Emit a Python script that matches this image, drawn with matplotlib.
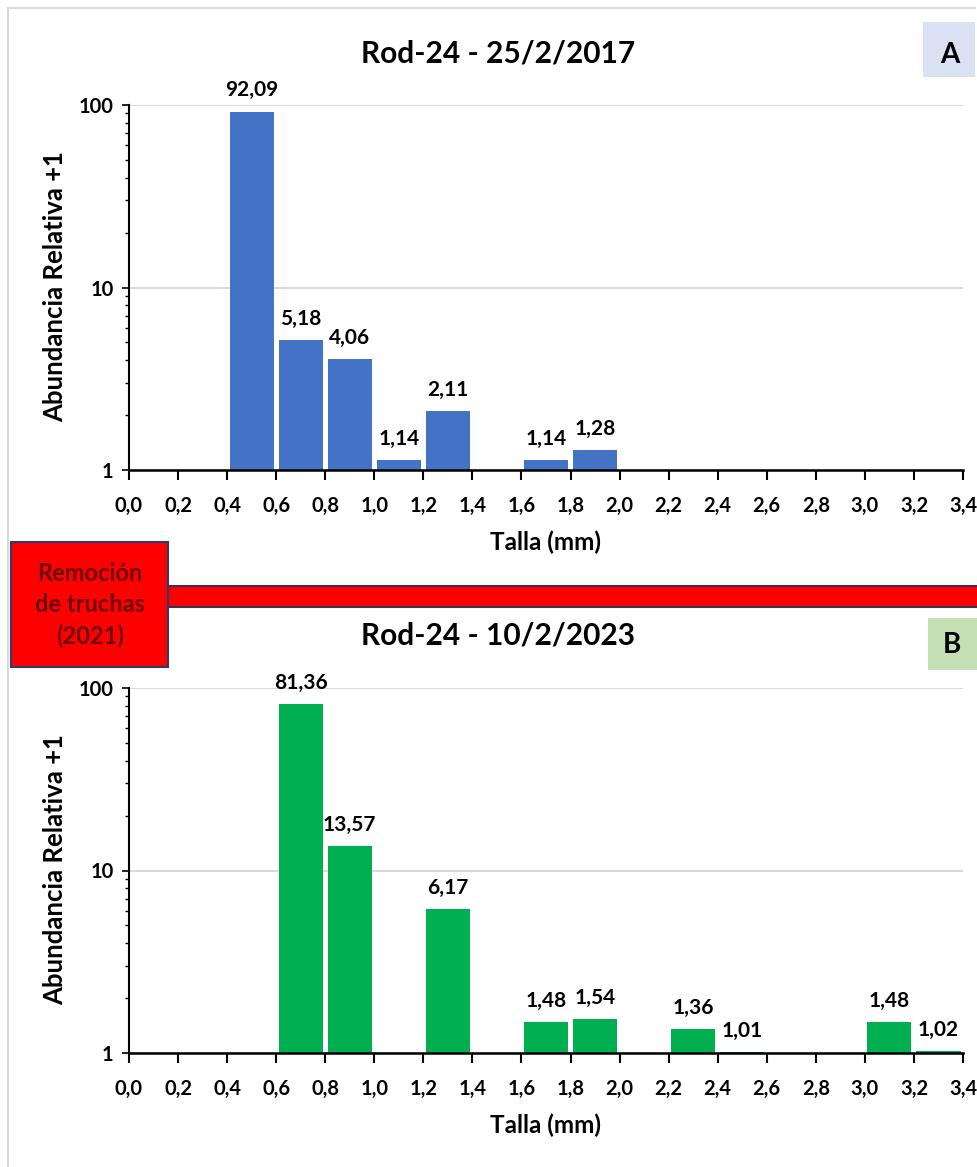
import numpy as np
import matplotlib.pyplot as plt
from matplotlib.lines import Line2D
from matplotlib.patches import Rectangle
from matplotlib.ticker import FixedLocator, LogLocator, NullFormatter

plt.rcParams['font.family'] = ['Lato', 'DejaVu Sans']
plt.rcParams['font.weight'] = 'bold'

# size classes (mm): lower edge of each 0.2 mm bin
bins_2017 = [0.4, 0.6, 0.8, 1.0, 1.2, 1.6, 1.8]
abund_2017 = [92.09, 5.18, 4.06, 1.14, 2.11, 1.14, 1.28]

bins_2023 = [0.6, 0.8, 1.2, 1.6, 1.8, 2.2, 2.4, 3.0, 3.2]
abund_2023 = [81.36, 13.57, 6.17, 1.48, 1.54, 1.36, 1.01, 1.48, 1.02]

x_ticks = np.round(np.arange(0, 3.41, 0.2), 1)
x_labels = [f"{v:.1f}".replace('.', ',') for v in x_ticks]
y_ticks = [1, 10, 100]
y_labels = ['1', '10', '100']

BLUE = '#4472C4'
GREEN = '#00B050'
W, H = 978, 1167

fig = plt.figure(figsize=(W / 100, H / 100), dpi=100)


def fx(px):
    return px / W


def fy(py):
    return 1 - py / H


# outer frame (left and top edges only)
fig.add_artist(Line2D([fx(8), fx(8)], [fy(1167), fy(8)], color='#D9D9D9', lw=1.5))
fig.add_artist(Line2D([fx(8), fx(975)], [fy(8), fy(8)], color='#D9D9D9', lw=1.5))


def panel(top_px, bins, values, color, title):
    bottom_px = top_px + 365
    ax = fig.add_axes([fx(129), fy(bottom_px), fx(963 - 129), 365 / H])
    left = np.array(bins)
    vals = np.array(values)
    ax.bar(left + 0.1, vals - 1, bottom=1, width=0.18, color=color, zorder=2)
    ax.set_yscale('log')
    ax.set_ylim(1, 100)
    ax.set_xlim(0, 3.4)
    ax.yaxis.set_major_locator(FixedLocator(y_ticks))
    ax.set_yticklabels(y_labels)
    ax.yaxis.set_minor_locator(LogLocator(base=10, subs=np.arange(2, 10)))
    ax.yaxis.set_minor_formatter(NullFormatter())
    ax.set_xticks(x_ticks)
    ax.set_xticklabels(x_labels)
    ax.tick_params(axis='x', direction='out', length=7, width=1.5, pad=12,
                   labelsize=14.5)
    ax.tick_params(axis='y', which='major', direction='out', length=5,
                   width=1.2, labelsize=14.5, pad=6)
    ax.tick_params(axis='y', which='minor', direction='out', length=3,
                   width=1.0)
    for t in ax.get_xticklabels() + ax.get_yticklabels():
        t.set_fontweight('bold')
    ax.grid(axis='y', which='major', color='#D9D9D9', lw=1.5, zorder=0)
    for s in ['top', 'right']:
        ax.spines[s].set_visible(False)
    ax.spines['left'].set_linewidth(1.5)
    ax.spines['bottom'].set_linewidth(1.8)
    ax.spines['bottom'].set_zorder(3)

    for b, v in zip(left, vals):
        ax.annotate(f"{v:.2f}".replace('.', ','), (b + 0.1, v),
                    xytext=(0, 8), textcoords='offset points',
                    ha='center', va='bottom', fontsize=15,
                    fontweight='bold')

    fig.text(fx(546), fy(bottom_px + 72), 'Talla (mm)', ha='center',
             va='center', fontsize=17.5, fontweight='bold')
    fig.text(fx(55), fy(top_px + 182), 'Abundancia Relativa +1',
             rotation=90, ha='center', va='center', fontsize=18.5,
             fontweight='bold')
    fig.text(fx(498), fy(top_px - 52), title, ha='center', va='center',
             fontsize=21.5, fontweight='bold')
    return ax


ax_a = panel(105, bins_2017, abund_2017, BLUE, 'Rod-24 - 25/2/2017')
ax_b = panel(688, bins_2023, abund_2023, GREEN, 'Rod-24 - 10/2/2023')

# letter boxes
fig.patches.append(Rectangle((fx(923), fy(77)), fx(52), 55 / H,
                             transform=fig.transFigure, facecolor='#D9E1F2',
                             edgecolor='none'))
fig.text(fx(950), fy(55), 'A', ha='center', va='center', fontsize=20,
         fontweight='bold')
fig.patches.append(Rectangle((fx(928), fy(670)), fx(50), 52 / H,
                             transform=fig.transFigure, facecolor='#C5E0B4',
                             edgecolor='none'))
fig.text(fx(952), fy(645), 'B', ha='center', va='center', fontsize=20,
         fontweight='bold')

# trout removal marker
fig.patches.append(Rectangle((fx(168), fy(607)), fx(812), 21 / H,
                             transform=fig.transFigure, facecolor='#FF0000',
                             edgecolor='#3A2F55', lw=1.5, zorder=5))
fig.patches.append(Rectangle((fx(11), fy(667)), fx(157), 125 / H,
                             transform=fig.transFigure, facecolor='#FF0000',
                             edgecolor='#2F3B6B', lw=1.5, zorder=5))
fig.text(fx(90), fy(605), 'Remoción\nde truchas\n(2021)', ha='center',
         va='center', fontsize=17, color='#6E0000', fontweight='bold',
         linespacing=1.45, zorder=6)

fig.savefig('out.png', dpi=100)
